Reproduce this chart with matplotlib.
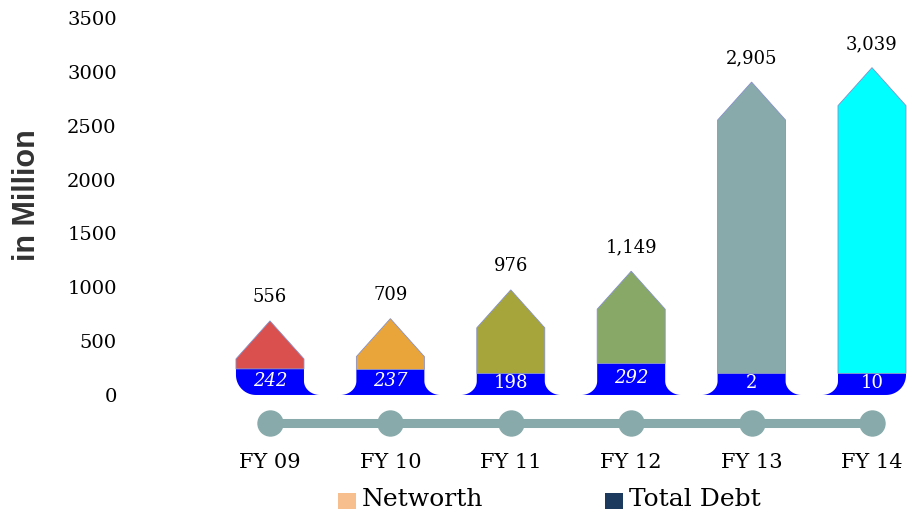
import matplotlib.pyplot as plt
import numpy as np
from matplotlib.patches import Polygon, Rectangle

plt.rcParams['font.family'] = 'DejaVu Serif'

years = ['FY 09', 'FY 10', 'FY 11', 'FY 12', 'FY 13', 'FY 14']
networth = [556, 709, 976, 1149, 2905, 3039]
debt = [242, 237, 198, 292, 2, 10]
bar_colors = ['#d9504f', '#e9a53a', '#a6a53b', '#88a867', '#88aaaa', '#00ffff']
debt_color = '#0000ff'
left_corner = ['round', 'flare', 'flare', 'flare', 'flare', 'flare']
right_corner = ['flare', 'flare', 'flare', 'flare', 'flare', 'round']
debt_italic = [True, True, False, True, False, False]

fig = plt.figure(figsize=(9.21, 5.15), dpi=100)
ax = fig.add_axes([125 / 921, 75 / 515, 796 / 921, 440 / 515])
ax.set_xlim(-1.204, 5.407)
ax.set_ylim(-418, 3667)

PX_X = 120.4        # pixels per category
PX_Y = 377 / 3500   # pixels per value unit
W = 34              # half bar width, px
HEAD = 38           # arrow head height, px
MIN_FOOT = 200      # smallest drawn height of the debt part


def corner(side, kind, n=24):
    # points from the bar edge down to the baseline, in px
    t = np.linspace(0, np.pi / 2, n)
    if kind == 'flare':
        rh, rv = 16, 14
        xs = -(W + rh) + rh * np.cos(t)
        ys = rv - rv * np.sin(t)
    else:
        r = 20
        xs = -W + r - r * np.cos(t)
        ys = r - r * np.sin(t)
    if side == 'right':
        xs, ys = -xs[::-1], ys[::-1]
    return xs, ys


for i in range(len(years)):
    hb = max(debt[i], MIN_FOOT)
    # keep a short body under the head when the bar is small
    tip = max(networth[i], hb + (HEAD + 10) / PX_Y)
    shoulder = tip - HEAD / PX_Y

    lx, ly = corner('left', left_corner[i])
    rx, ry = corner('right', right_corner[i])
    xs = np.concatenate([[-W], lx, rx, [W]]) / PX_X + i
    ys = np.concatenate([[hb], ly / PX_Y, ry / PX_Y, [hb]])
    ax.add_patch(Polygon(np.column_stack([xs, ys]), closed=True,
                         facecolor=debt_color, edgecolor='none'))

    top = [(i - W / PX_X, hb), (i - W / PX_X, shoulder), (i, tip),
           (i + W / PX_X, shoulder), (i + W / PX_X, hb)]
    ax.add_patch(Polygon(top, closed=True, facecolor=bar_colors[i],
                         edgecolor='#8590c8', linewidth=0.6))

    ax.annotate(f'{networth[i]:,}', (i, tip), xytext=(0, 17),
                textcoords='offset points', ha='center', va='center',
                fontsize=13, color='black')
    ax.text(i, hb * 0.55, str(debt[i]), ha='center', va='center',
            fontsize=13, color='white',
            style='italic' if debt_italic[i] else 'normal')

# timeline
x = np.arange(len(years))
ax.plot(x, [-260] * len(years), color='#88aaaa', lw=6.5, marker='o',
        markersize=18, solid_capstyle='butt', clip_on=False)

ax.set_xticks(x)
ax.set_xticklabels(years, fontsize=15)
ax.set_yticks(range(0, 3501, 500))
ax.set_yticklabels([str(v) for v in range(0, 3501, 500)], fontsize=14)
ax.tick_params(axis='x', length=0, pad=9)
ax.tick_params(axis='y', length=0, pad=6)
for s in ax.spines.values():
    s.set_visible(False)

fig.text(27 / 921, 1 - 195 / 515, 'in Million', rotation=90, ha='center',
         va='center', fontsize=22, fontweight='bold',
         family='Liberation Sans', color='#333333')

# legend
fig.add_artist(Rectangle((338 / 921, 1 - 509 / 515), 18 / 921, 16 / 515,
                         transform=fig.transFigure, facecolor='#f7bf8e',
                         edgecolor='none'))
fig.text(362 / 921, 1 - 500 / 515, 'Networth', ha='left', va='center',
         fontsize=18)
fig.add_artist(Rectangle((605 / 921, 1 - 509 / 515), 18 / 921, 16 / 515,
                         transform=fig.transFigure, facecolor='#1b3a5e',
                         edgecolor='none'))
fig.text(629 / 921, 1 - 500 / 515, 'Total Debt', ha='left', va='center',
         fontsize=18)

fig.savefig('out.png', dpi=100)
